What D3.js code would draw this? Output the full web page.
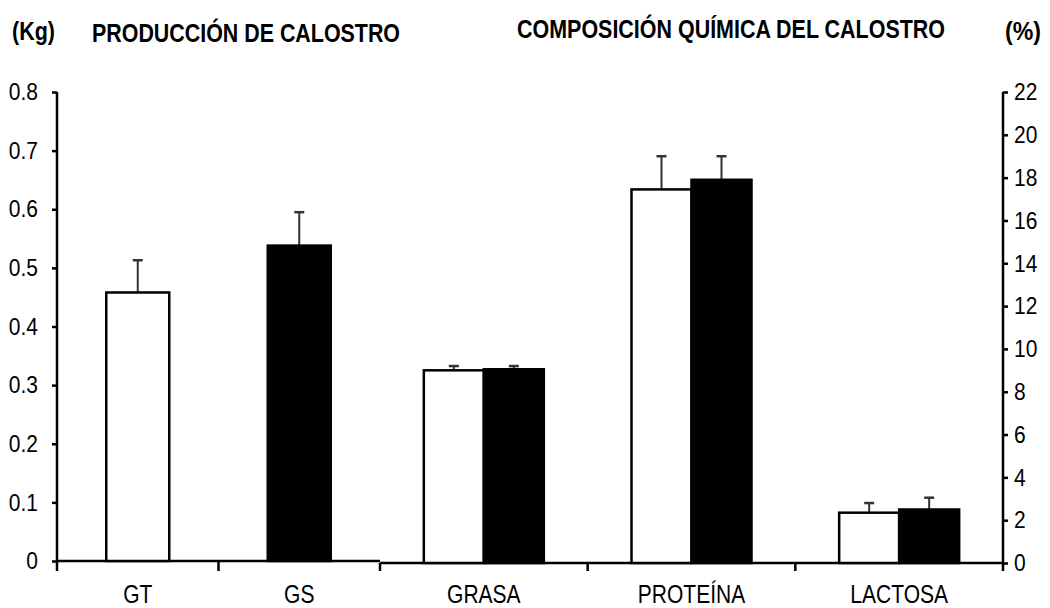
<!DOCTYPE html>
<html>
<head>
<meta charset="utf-8">
<script src="https://cdn.jsdelivr.net/npm/d3@7"></script>
<style>
  body { margin: 0; background: #fff; }
  svg text { font-family: "Liberation Sans", Arial, sans-serif; fill: #000; }
</style>
</head>
<body>
<div id="chart"></div>
<script>
// produccion de calostro (Kg)
var prodCats = ["GT", "GS"],
	prodValues = [0.458, 0.538],
	prodErrors = [0.055, 0.057],
	prodFill = ["#fff", "#000"];

// composicion quimica (%) : dos grupos por componente
var compCats = ["GRASA", "PROTEÍNA", "LACTOSA"],
	compGT = [9.0, 17.45, 2.35],
	compGTerr = [0.2, 1.55, 0.45],
	compGS = [9.05, 17.9, 2.5],
	compGSerr = [0.15, 1.1, 0.55];

var kgTicks = [0, 0.1, 0.2, 0.3, 0.4, 0.5, 0.6, 0.7, 0.8],
	pctTicks = [0, 2, 4, 6, 8, 10, 12, 14, 16, 18, 20, 22];

var width = 1050, height = 608;

var svg = d3.select("#chart").append("svg")
	.attr("width", width)
	.attr("height", height);

// escalas
var yKg = d3.scaleLinear().domain([0, 0.8]).range([561, 92]);
var yPct = d3.scaleLinear().domain([0, 22]).range([563, 92]);

var xProd = d3.scaleBand().domain(prodCats).range([57, 380]).paddingInner(0).paddingOuter(0);
var xComp = d3.scaleBand().domain(compCats).range([380, 1003]).paddingInner(0).paddingOuter(0);
var xSub = d3.scaleBand().domain(["GT", "GS"]).range([0, 120]);

var barW = 63;

// ejes
var axisKg = d3.axisLeft(yKg).tickValues(kgTicks).tickSize(5).tickPadding(14)
	.tickFormat(function (d) { return d === 0 ? "0" : d3.format(".1f")(d) });
var gKg = svg.append("g").attr("transform", "translate(57,0)").call(axisKg);

var axisPct = d3.axisRight(yPct).tickValues(pctTicks).tickSize(5).tickPadding(6);
var gPct = svg.append("g").attr("transform", "translate(1003,0)").call(axisPct);

[gKg, gPct].forEach(function (g) {
	g.select(".domain").attr("stroke-width", 2.5).attr("d", null);
	g.selectAll(".tick line").attr("stroke-width", 2.5);
	g.selectAll(".tick text")
		.style("font-size", "21px")
		.attr("fill", "#000")
		.attr("transform", "scale(1,1.15)");
});
gKg.select(".domain").attr("d", "M0,92V561");
gPct.select(".domain").attr("d", "M0,92V563");

// lineas base con ticks hacia abajo
svg.append("path")
	.attr("d", "M57," + yKg(0) + "H380")
	.attr("stroke", "#000").attr("stroke-width", 2.5).attr("fill", "none");
svg.append("path")
	.attr("d", "M380," + yPct(0) + "H1003")
	.attr("stroke", "#000").attr("stroke-width", 2.5).attr("fill", "none");

var xTicks = [57, xProd("GS"), 380, xComp("PROTEÍNA"), xComp("LACTOSA"), 1003];
svg.selectAll(".xtick").data(xTicks).enter().append("line")
	.attr("class", "xtick")
	.attr("x1", function (d) { return d }).attr("x2", function (d) { return d })
	.attr("y1", function (d) { return d < 380 ? yKg(0) : yPct(0) })
	.attr("y2", 571)
	.attr("stroke", "#000").attr("stroke-width", 2.5);

// barras de produccion
var prodBars = prodCats.map(function (c, i) {
	return { x: xProd(c) + (xProd.bandwidth() - barW) / 2, v: prodValues[i], e: prodErrors[i], fill: prodFill[i] };
});

// barras de composicion
var compBars = [];
compCats.forEach(function (c, i) {
	var x0 = xComp(c) + (xComp.bandwidth() - 120) / 2;
	compBars.push({ x: x0 + xSub("GT"), v: compGT[i], e: compGTerr[i], fill: "#fff" });
	compBars.push({ x: x0 + xSub("GS"), v: compGS[i], e: compGSerr[i], fill: "#000" });
});

function drawBars(data, y, bw) {
	var g = svg.append("g");
	// barras de error (solo hacia arriba)
	g.selectAll(".err").data(data).enter().append("line")
		.attr("x1", function (d) { return d.x + bw / 2 })
		.attr("x2", function (d) { return d.x + bw / 2 })
		.attr("y1", function (d) { return y(d.v) })
		.attr("y2", function (d) { return y(d.v + d.e) })
		.attr("stroke", "#333").attr("stroke-width", 2);
	g.selectAll(".cap").data(data).enter().append("line")
		.attr("x1", function (d) { return d.x + bw / 2 - 5 })
		.attr("x2", function (d) { return d.x + bw / 2 + 5 })
		.attr("y1", function (d) { return y(d.v + d.e) })
		.attr("y2", function (d) { return y(d.v + d.e) })
		.attr("stroke", "#333").attr("stroke-width", 2.5);
	g.selectAll(".bar").data(data).enter().append("rect")
		.attr("x", function (d) { return d.x })
		.attr("width", bw)
		.attr("y", function (d) { return y(d.v) })
		.attr("height", function (d) { return y(0) - y(d.v) })
		.attr("fill", function (d) { return d.fill })
		.attr("stroke", "#000").attr("stroke-width", 2.5);
}
drawBars(prodBars, yKg, barW);
drawBars(compBars, yPct, xSub.bandwidth());

// etiquetas de categoria (texto algo estirado en vertical, como el original)
function label(x, y, txt, size, bold, len, anchor) {
	var t = svg.append("text")
		.attr("transform", "translate(" + x + "," + y + ") scale(1,1.25)")
		.attr("text-anchor", anchor || "start")
		.style("font-size", size + "px")
		.style("font-weight", bold ? "bold" : "normal")
		.text(txt);
	if (len) t.attr("textLength", len).attr("lengthAdjust", "spacingAndGlyphs");
	return t;
}
prodCats.forEach(function (c) {
	label(xProd(c) + xProd.bandwidth() / 2, 603, c, 21, false, null, "middle");
});
compCats.forEach(function (c) {
	label(xComp(c) + xComp.bandwidth() / 2, 603, c, 21, false, null, "middle");
});

// titulos
label(12, 40, "(Kg)", 20, true, 43);
label(92, 42, "PRODUCCIÓN DE CALOSTRO", 20, true, 308);
label(517, 38, "COMPOSICIÓN QUÍMICA DEL CALOSTRO", 20, true, 428);
label(1005, 40, "(%)", 20, true, 36);
</script>
</body>
</html>
